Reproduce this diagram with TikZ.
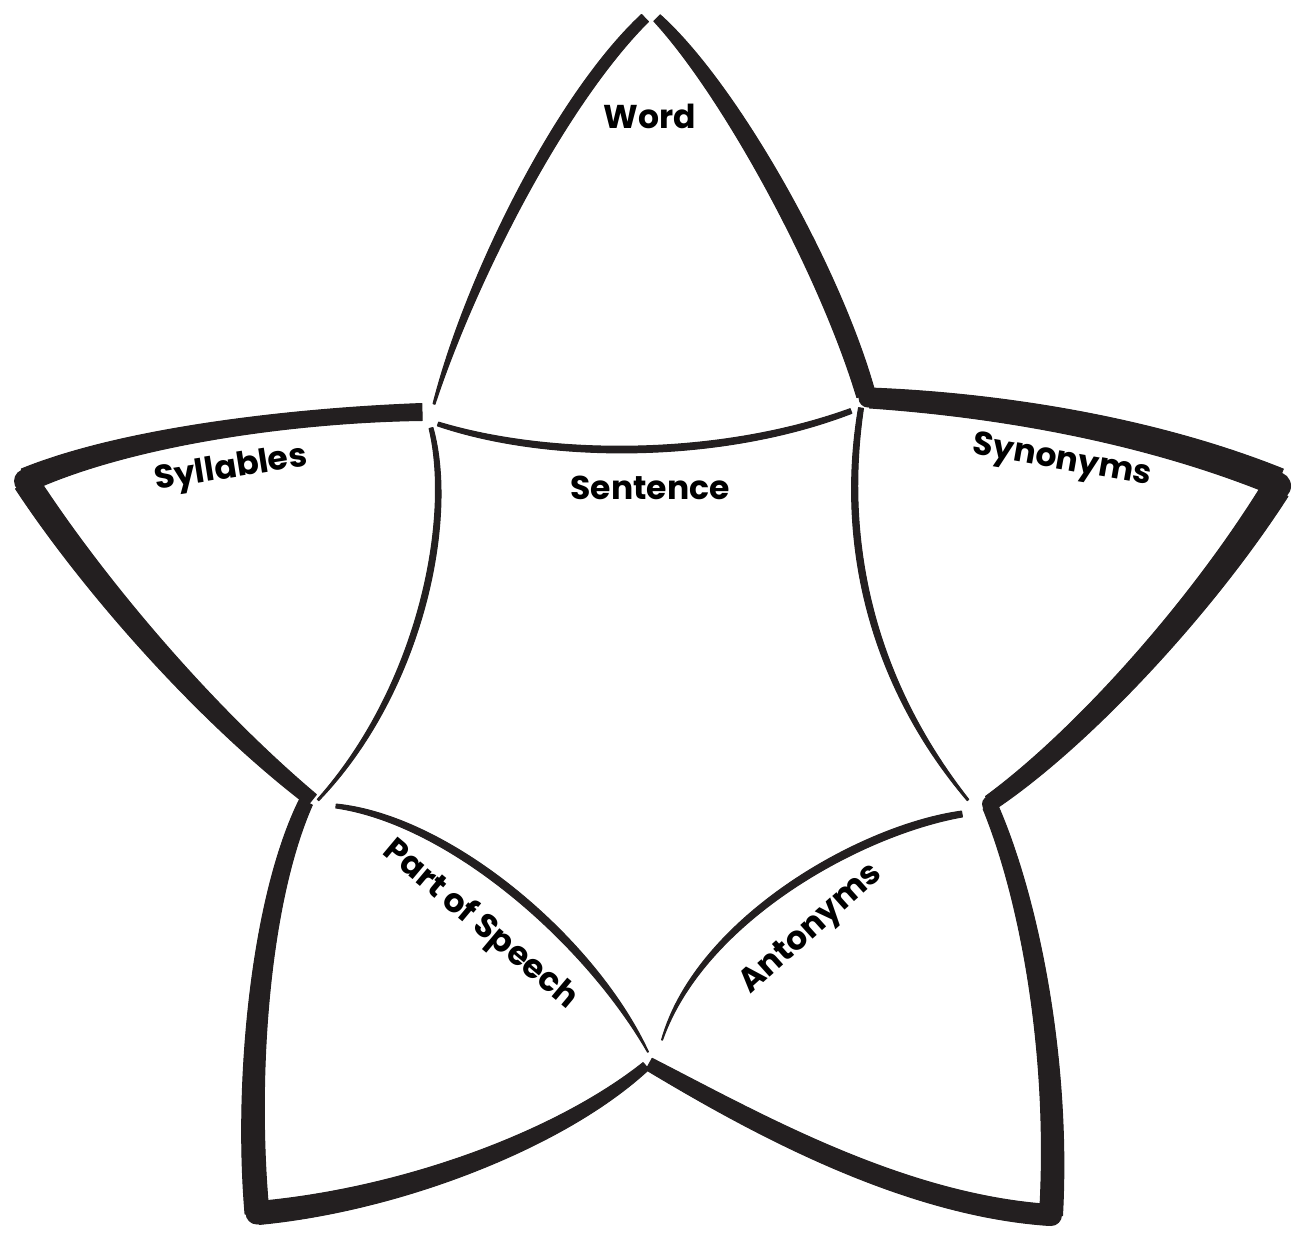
\documentclass[tikz,border=0pt]{standalone}
\usepackage{fontspec}
\setmainfont{Poppins}
\usetikzlibrary{calc}
\definecolor{ink}{RGB}{35,31,32}

% tapered brush stroke: A, c1, c2, B, half widths at A, c1, c2, B
\newcommand{\brushline}[8]{%
  \filldraw[ink, line width=1pt, line join=round] ($(#1)!#5pt!90:(#2)$)
    .. controls ($(#2)!#6pt!-90:(#1)$) and ($(#3)!#7pt!90:(#4)$)
    .. ($(#4)!#8pt!-90:(#3)$)
    -- ($(#4)!#8pt!90:(#3)$)
    .. controls ($(#3)!#7pt!-90:(#4)$) and ($(#2)!#6pt!90:(#1)$)
    .. ($(#1)!#5pt!-90:(#2)$) -- cycle;}

\tikzset{
  label/.style={font=\fontsize{33}{39}\selectfont\bfseries, text=black, inner sep=0pt}
}

\begin{document}
\begin{tikzpicture}[x=1pt, y=-1pt]
\useasboundingbox (0,0) rectangle (1292,1240);
% outer strokes of the star
\brushline{645,18}{560,100}{470,280}{434,404}{5}{7}{5.5}{1}
\brushline{657,18}{730,90}{830,270}{866,395}{4.5}{9.5}{11}{9.5}
\brushline{422,412}{300,415}{130,435}{26,480}{8.5}{7}{9.5}{12}
\brushline{26,482}{90,580}{200,710}{312,800}{12.5}{12}{10.5}{7}
\brushline{306,802}{260,900}{245,1080}{257,1213}{7}{9.5}{11.5}{12}
\brushline{258,1213}{400,1200}{560,1140}{646,1066}{11.5}{11}{9}{4.5}
\brushline{649,1064}{750,1120}{900,1205}{1050,1215}{6.5}{10.5}{10.5}{10.5}
\brushline{1051,1215}{1060,1060}{1030,900}{990,806}{11.5}{11}{9}{7.5}
\brushline{990,803}{1080,740}{1200,610}{1276,489}{8}{10.5}{12.5}{14}
\brushline{1278,482}{1150,430}{1000,405}{870,398}{14}{13.5}{12}{10}
% rounded tips
\fill[ink] (26,481) circle (12);
\fill[ink] (1277,486) circle (14);
\fill[ink] (257,1213) circle (11.5);
\fill[ink] (1051,1215) circle (11);
\fill[ink] (868,398) circle (9.5);
\fill[ink] (990,804) circle (8);
% inner curves
\brushline{438,424}{550,460}{720,460}{851,411}{2}{4}{4}{2.5}
\brushline{431,428}{455,520}{420,690}{318,800}{2}{4}{4}{1}
\brushline{861,408}{840,540}{870,680}{968,800}{2.5}{4}{4}{1}
\brushline{336,806}{450,820}{590,940}{648,1052}{2}{4.5}{6}{0.5}
\brushline{962,814}{860,830}{700,920}{662,1040}{3}{5}{4.5}{0.5}
% labels
\node[label] (word) at (650,116) {Word};
\node[label] (sentence) at (650,488) {Sentence};
\node[label, rotate=9] (syllables) at (231,470) {Syllables};
\node[label, rotate=-10] (synonyms) at (1062,462) {Synonyms};
\node[label, rotate=-40] (speech) at (480,925) {Part of Speech};
\node[label, rotate=42] (antonyms) at (812,930) {Antonyms};
\end{tikzpicture}
\end{document}
